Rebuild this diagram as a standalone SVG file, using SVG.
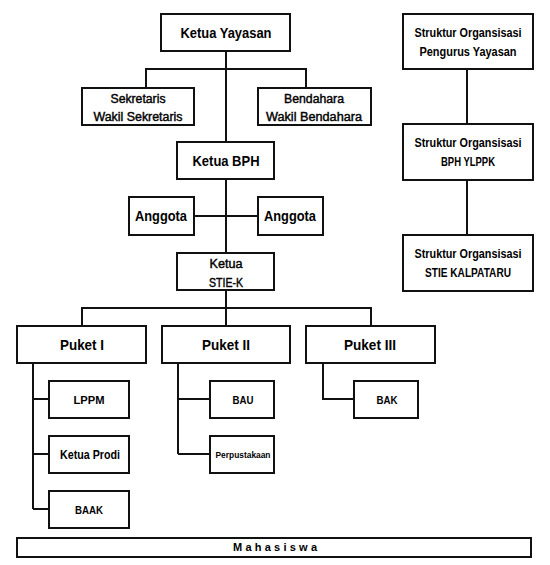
<svg xmlns="http://www.w3.org/2000/svg" width="550" height="565" viewBox="0 0 550 565">
<style>
.box{fill:#fff;stroke:#111;stroke-width:2}
.ln{fill:none;stroke:#111;stroke-width:2}
text{font-family:"Liberation Sans",Arial,sans-serif;fill:#000;text-anchor:middle;font-weight:bold}
.t15{font-size:15px}
.t12{font-size:12px}
.r12{font-size:12px;font-weight:normal;stroke:#000;stroke-width:0.4}
.t11{font-size:11px}
.t9{font-size:9px}
</style>
<rect width="550" height="565" fill="#fff"/>
<g id="connectors">
<path class="ln" d="M226 51V142M146 88V69H306V88M226 179V253M194 216H258M226 290V326M82 326V308H371V326"/>
<path class="ln" d="M33 363V509M33 399H49M33 454H49M33 509H49"/>
<path class="ln" d="M178 363V454M178 399H210M178 454H210"/>
<path class="ln" d="M323 363V399H354"/>
<path class="ln" d="M467 69V124M467 180V235"/>
</g>
<g id="ketua-yayasan"><rect class="box" x="161" y="14" width="129" height="37"/><text class="t15" x="226" y="38" textLength="91" lengthAdjust="spacingAndGlyphs">Ketua Yayasan</text></g>
<g id="sekretaris"><rect class="box" x="82" y="88" width="112" height="37"/><text class="r12" x="138" y="103" textLength="55" lengthAdjust="spacingAndGlyphs">Sekretaris</text><text class="r12" x="138" y="121" textLength="89" lengthAdjust="spacingAndGlyphs">Wakil Sekretaris</text></g>
<g id="bendahara"><rect class="box" x="258" y="88" width="113" height="37"/><text class="r12" x="314" y="103" textLength="60" lengthAdjust="spacingAndGlyphs">Bendahara</text><text class="r12" x="314" y="121" textLength="96" lengthAdjust="spacingAndGlyphs">Wakil Bendahara</text></g>
<g id="ketua-bph"><rect class="box" x="177" y="142" width="97" height="37"/><text class="t15" x="226" y="166" textLength="67" lengthAdjust="spacingAndGlyphs">Ketua BPH</text></g>
<g id="anggota-1"><rect class="box" x="129" y="197" width="65" height="38"/><text class="t15" x="161" y="221" textLength="52" lengthAdjust="spacingAndGlyphs">Anggota</text></g>
<g id="anggota-2"><rect class="box" x="258" y="197" width="65" height="38"/><text class="t15" x="290" y="221" textLength="52" lengthAdjust="spacingAndGlyphs">Anggota</text></g>
<g id="ketua-stie"><rect class="box" x="177" y="253" width="97" height="37"/><text class="r12" x="226" y="268" textLength="33" lengthAdjust="spacingAndGlyphs">Ketua</text><text class="r12" x="226" y="287" textLength="34" lengthAdjust="spacingAndGlyphs">STIE-K</text></g>
<g id="puket-1"><rect class="box" x="17" y="326" width="129" height="37"/><text class="t15" x="82" y="350" textLength="44" lengthAdjust="spacingAndGlyphs">Puket I</text></g>
<g id="puket-2"><rect class="box" x="162" y="326" width="128" height="37"/><text class="t15" x="226" y="350" textLength="48" lengthAdjust="spacingAndGlyphs">Puket II</text></g>
<g id="puket-3"><rect class="box" x="306" y="326" width="129" height="37"/><text class="t15" x="370" y="350" textLength="52" lengthAdjust="spacingAndGlyphs">Puket III</text></g>
<g id="lppm"><rect class="box" x="49" y="381" width="80" height="37"/><text class="t11" x="89" y="404" textLength="31" lengthAdjust="spacingAndGlyphs">LPPM</text></g>
<g id="ketua-prodi"><rect class="box" x="49" y="436" width="80" height="37"/><text class="t12" x="90" y="459" textLength="60" lengthAdjust="spacingAndGlyphs">Ketua Prodi</text></g>
<g id="baak"><rect class="box" x="49" y="491" width="80" height="37"/><text class="t11" x="89" y="514" textLength="28" lengthAdjust="spacingAndGlyphs">BAAK</text></g>
<g id="bau"><rect class="box" x="210" y="381" width="64" height="37"/><text class="t11" x="243" y="404" textLength="21" lengthAdjust="spacingAndGlyphs">BAU</text></g>
<g id="perpustakaan"><rect class="box" x="210" y="436" width="64" height="37"/><text class="t9" x="243" y="458" textLength="55" lengthAdjust="spacingAndGlyphs">Perpustakaan</text></g>
<g id="bak"><rect class="box" x="354" y="381" width="64" height="37"/><text class="t11" x="387" y="404" textLength="21" lengthAdjust="spacingAndGlyphs">BAK</text></g>
<g id="mahasiswa"><rect class="box" x="17" y="538" width="514" height="19"/><text class="t11" x="233" y="551" style="text-anchor:start" textLength="84" lengthAdjust="spacing">Mahasiswa</text></g>
<g id="so-pengurus"><rect class="box" x="403" y="14" width="130" height="55"/><text class="t12" x="468" y="37" textLength="107" lengthAdjust="spacingAndGlyphs">Struktur Organsisasi</text><text class="t12" x="468" y="56" textLength="97" lengthAdjust="spacingAndGlyphs">Pengurus Yayasan</text></g>
<g id="so-bph"><rect class="box" x="403" y="124" width="130" height="56"/><text class="t12" x="468" y="147" textLength="107" lengthAdjust="spacingAndGlyphs">Struktur Organsisasi</text><text class="t12" x="468" y="166" textLength="54" lengthAdjust="spacingAndGlyphs">BPH YLPPK</text></g>
<g id="so-stie"><rect class="box" x="403" y="235" width="130" height="56"/><text class="t12" x="468" y="258" textLength="107" lengthAdjust="spacingAndGlyphs">Struktur Organsisasi</text><text class="t12" x="468" y="277" textLength="86" lengthAdjust="spacingAndGlyphs">STIE KALPATARU</text></g>
</svg>
